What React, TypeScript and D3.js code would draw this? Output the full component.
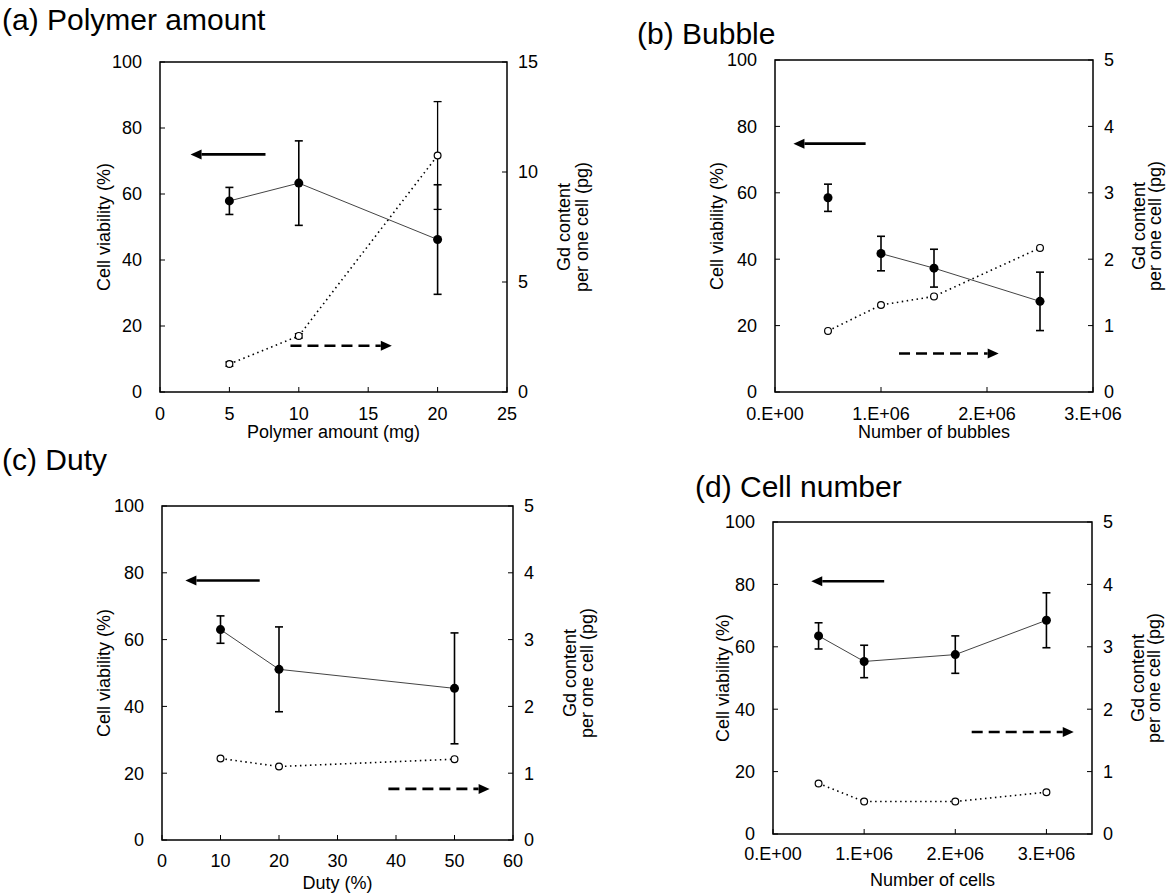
import React from "react";
import * as d3 from "d3";

// ---- data ----
const viabilityTicks = [0, 20, 40, 60, 80, 100];

// (a) polymer amount
const polymerAmount = [5, 10, 20];
const polymerViability = [57.9, 63.3, 46.2];
const polymerViabilityErr = [4.1, 12.8, 16.6];
const polymerGd = [1.27, 2.55, 10.75];
const polymerGdErr = [0.1, 0.1, 2.45];
const polymerXTicks = [0, 5, 10, 15, 20, 25];
const polymerGdTicks = [0, 5, 10, 15];

// (b) bubble
const bubbleCount = [5e5, 1e6, 1.5e6, 2.5e6];
const bubbleViability = [58.5, 41.7, 37.3, 27.3];
const bubbleViabilityErr = [4.1, 5.2, 5.7, 8.8];
const bubbleGd = [0.92, 1.31, 1.44, 2.17];
const bubbleXTicks = [0, 1e6, 2e6, 3e6];

// (c) duty
const dutyPercent = [10, 20, 50];
const dutyViability = [63.0, 51.1, 45.4];
const dutyViabilityErr = [4.1, 12.7, 16.6];
const dutyGd = [1.22, 1.1, 1.21];
const dutyXTicks = [0, 10, 20, 30, 40, 50, 60];

// (d) cell number
const cellCount = [5e5, 1e6, 2e6, 3e6];
const cellViability = [63.5, 55.3, 57.5, 68.5];
const cellViabilityErr = [4.2, 5.2, 6.0, 8.8];
const cellGd = [0.81, 0.52, 0.52, 0.67];
const cellXTicks = [0, 1e6, 2e6, 3e6];

const gdTicks = [0, 1, 2, 3, 4, 5];

const FONT = "'Liberation Sans', Arial, Helvetica, sans-serif";

const sci = (d: number) => {
  if (d === 0) return "0.E+00";
  const e = Math.floor(Math.log10(d));
  return `${Math.round(d / 10 ** e)}.E+${String(e).padStart(2, "0")}`;
};

type PanelProps = {
  title: string;
  titleX: number;
  titleY: number;
  box: [number, number, number, number]; // x0, x1, y0, y1
  xDomain: [number, number];
  xTicks: number[];
  xFormat?: (d: number) => string;
  xTitle: string;
  tickDy: number;
  xTitleDy: number;
  leftTitleDx: number;
  rightTitleDx: [number, number];
  gdMax: number;
  gdTickValues: number[];
  x: number[];
  viability: number[];
  viabilityErr: number[];
  lineFrom?: number;
  gd: number[];
  gdErr?: number[];
  leftArrow: [number, number, number];
  rightArrow: [number, number, number];
};

function Arrow({ x1, x2, y, dashed }: { x1: number; x2: number; y: number; dashed?: boolean }) {
  const dir = Math.sign(x2 - x1);
  const head = 11;
  const base = x2 - dir * head;
  return (
    <g>
      <line
        x1={x1}
        x2={base}
        y1={y}
        y2={y}
        stroke="#000"
        strokeWidth={2.6}
        strokeDasharray={dashed ? "11,6" : undefined}
      />
      <path d={`M${x2},${y} L${base},${y - 5} L${base},${y + 5} Z`} fill="#000" />
    </g>
  );
}

function Panel(p: PanelProps) {
  const [x0, x1, y0, y1] = p.box;
  const xs = d3.scaleLinear().domain(p.xDomain).range([x0, x1]);
  const ys = d3.scaleLinear().domain([0, 100]).range([y1, y0]);
  const gs = d3.scaleLinear().domain([0, p.gdMax]).range([y1, y0]);
  const fmt = p.xFormat || ((d: number) => String(d));

  const from = p.lineFrom || 0;
  const vPts = p.x.map((v, i) => [v, p.viability[i]] as [number, number]).slice(from);
  const gPts = p.x.map((v, i) => [v, p.gd[i]] as [number, number]);
  const vLine = d3.line<[number, number]>().x((d) => xs(d[0])).y((d) => ys(d[1]));
  const gLine = d3.line<[number, number]>().x((d) => xs(d[0])).y((d) => gs(d[1]));

  const midY = (y0 + y1) / 2;
  const capW = 4;

  return (
    <g fontFamily={FONT}>
      <text x={p.titleX} y={p.titleY} fontSize={30}>
        {p.title}
      </text>

      {/* frame */}
      <rect x={x0} y={y0} width={x1 - x0} height={y1 - y0} fill="none" stroke="#000" strokeWidth={1.5} />

      {/* left axis */}
      {viabilityTicks.map((t) => (
        <g key={"l" + t}>
          <line x1={x0} x2={x0 + 5} y1={ys(t)} y2={ys(t)} stroke="#000" strokeWidth={1} />
          <text x={x0 - 18} y={ys(t)} dy="0.35em" textAnchor="end" fontSize={18}>
            {t}
          </text>
        </g>
      ))}
      {/* right axis */}
      {p.gdTickValues.map((t) => (
        <g key={"r" + t}>
          <line x1={x1 - 5} x2={x1} y1={gs(t)} y2={gs(t)} stroke="#000" strokeWidth={1} />
          <text x={x1 + 11} y={gs(t)} dy="0.35em" textAnchor="start" fontSize={18}>
            {t}
          </text>
        </g>
      ))}
      {/* bottom axis */}
      {p.xTicks.map((t) => (
        <g key={"b" + t}>
          <line x1={xs(t)} x2={xs(t)} y1={y1} y2={y1 - 5} stroke="#000" strokeWidth={1} />
          <text x={xs(t)} y={y1 + p.tickDy} textAnchor="middle" fontSize={18}>
            {fmt(t)}
          </text>
        </g>
      ))}

      <text x={(x0 + x1) / 2} y={y1 + p.xTitleDy} textAnchor="middle" fontSize={18}>
        {p.xTitle}
      </text>
      <text
        transform={`translate(${x0 - p.leftTitleDx},${midY}) rotate(-90)`}
        textAnchor="middle"
        dy="0.35em"
        fontSize={18}
      >
        Cell viability (%)
      </text>
      <text
        transform={`translate(${x1 + p.rightTitleDx[0]},${midY}) rotate(-90)`}
        textAnchor="middle"
        dy="0.35em"
        fontSize={18}
      >
        Gd content
      </text>
      <text
        transform={`translate(${x1 + p.rightTitleDx[1]},${midY}) rotate(-90)`}
        textAnchor="middle"
        dy="0.35em"
        fontSize={18}
      >
        per one cell (pg)
      </text>

      {/* Gd series */}
      <path d={gLine(gPts) || ""} fill="none" stroke="#000" strokeWidth={1.6} strokeDasharray="1.5,3.5" />
      {p.gdErr &&
        p.x.map((v, i) => {
          const e = p.gdErr![i];
          return (
            <g key={"ge" + i} stroke="#000" strokeWidth={1.3}>
              <line x1={xs(v)} x2={xs(v)} y1={gs(p.gd[i] - e)} y2={gs(p.gd[i] + e)} />
              <line x1={xs(v) - capW} x2={xs(v) + capW} y1={gs(p.gd[i] - e)} y2={gs(p.gd[i] - e)} />
              <line x1={xs(v) - capW} x2={xs(v) + capW} y1={gs(p.gd[i] + e)} y2={gs(p.gd[i] + e)} />
            </g>
          );
        })}
      {p.x.map((v, i) => (
        <circle key={"gc" + i} cx={xs(v)} cy={gs(p.gd[i])} r={3.4} fill="#fff" stroke="#000" strokeWidth={1.2} />
      ))}

      {/* viability series */}
      <path d={vLine(vPts) || ""} fill="none" stroke="#444" strokeWidth={1} />
      {p.x.map((v, i) => {
        const lo = p.viability[i] - p.viabilityErr[i];
        const hi = p.viability[i] + p.viabilityErr[i];
        return (
          <g key={"ve" + i} stroke="#000" strokeWidth={1.6}>
            <line x1={xs(v)} x2={xs(v)} y1={ys(lo)} y2={ys(hi)} />
            <line x1={xs(v) - capW} x2={xs(v) + capW} y1={ys(lo)} y2={ys(lo)} />
            <line x1={xs(v) - capW} x2={xs(v) + capW} y1={ys(hi)} y2={ys(hi)} />
          </g>
        );
      })}
      {p.x.map((v, i) => (
        <circle key={"vc" + i} cx={xs(v)} cy={ys(p.viability[i])} r={4.5} fill="#000" />
      ))}

      <Arrow x1={xs(p.leftArrow[0])} x2={xs(p.leftArrow[1])} y={ys(p.leftArrow[2])} />
      <Arrow x1={xs(p.rightArrow[0])} x2={xs(p.rightArrow[1])} y={ys(p.rightArrow[2])} dashed />
    </g>
  );
}

export default function App() {
  return (
    <svg width={1166} height={893} style={{ position: "absolute", left: 0, top: 0, background: "#fff" }}>
      <rect width={1166} height={893} fill="#fff" />
      <Panel
        title="(a) Polymer amount"
        titleX={2}
        titleY={30}
        box={[160, 507, 62, 392]}
        xDomain={[0, 25]}
        xTicks={polymerXTicks}
        xTitle="Polymer amount (mg)"
        tickDy={28}
        xTitleDy={46}
        leftTitleDx={56}
        rightTitleDx={[57, 75]}
        gdMax={15}
        gdTickValues={polymerGdTicks}
        x={polymerAmount}
        viability={polymerViability}
        viabilityErr={polymerViabilityErr}
        gd={polymerGd}
        gdErr={polymerGdErr}
        leftArrow={[7.6, 2.2, 72]}
        rightArrow={[9.4, 16.7, 14]}
      />
      <Panel
        title="(b) Bubble"
        titleX={637}
        titleY={44}
        box={[775, 1093, 60, 392]}
        xDomain={[0, 3e6]}
        xTicks={bubbleXTicks}
        xFormat={sci}
        xTitle="Number of bubbles"
        tickDy={28}
        xTitleDy={46}
        leftTitleDx={58}
        rightTitleDx={[46, 62]}
        gdMax={5}
        gdTickValues={gdTicks}
        x={bubbleCount}
        viability={bubbleViability}
        viabilityErr={bubbleViabilityErr}
        lineFrom={1}
        gd={bubbleGd}
        leftArrow={[0.855e6, 0.174e6, 74.8]}
        rightArrow={[1.17e6, 2.11e6, 11.6]}
      />
      <Panel
        title="(c) Duty"
        titleX={2}
        titleY={470}
        box={[162, 513, 506, 840]}
        xDomain={[0, 60]}
        xTicks={dutyXTicks}
        xTitle="Duty (%)"
        tickDy={27}
        xTitleDy={49}
        leftTitleDx={58}
        rightTitleDx={[57, 74]}
        gdMax={5}
        gdTickValues={gdTicks}
        x={dutyPercent}
        viability={dutyViability}
        viabilityErr={dutyViabilityErr}
        gd={dutyGd}
        leftArrow={[16.7, 4, 77.7]}
        rightArrow={[38.7, 56, 15.3]}
      />
      <Panel
        title="(d) Cell number"
        titleX={695}
        titleY={497}
        box={[773, 1092, 522, 834]}
        xDomain={[0, 3.5e6]}
        xTicks={cellXTicks}
        xFormat={sci}
        xTitle="Number of cells"
        tickDy={26}
        xTitleDy={52}
        leftTitleDx={50}
        rightTitleDx={[46, 62]}
        gdMax={5}
        gdTickValues={gdTicks}
        x={cellCount}
        viability={cellViability}
        viabilityErr={cellViabilityErr}
        gd={cellGd}
        leftArrow={[1.22e6, 0.42e6, 81]}
        rightArrow={[2.18e6, 3.3e6, 32.7]}
      />
    </svg>
  );
}
